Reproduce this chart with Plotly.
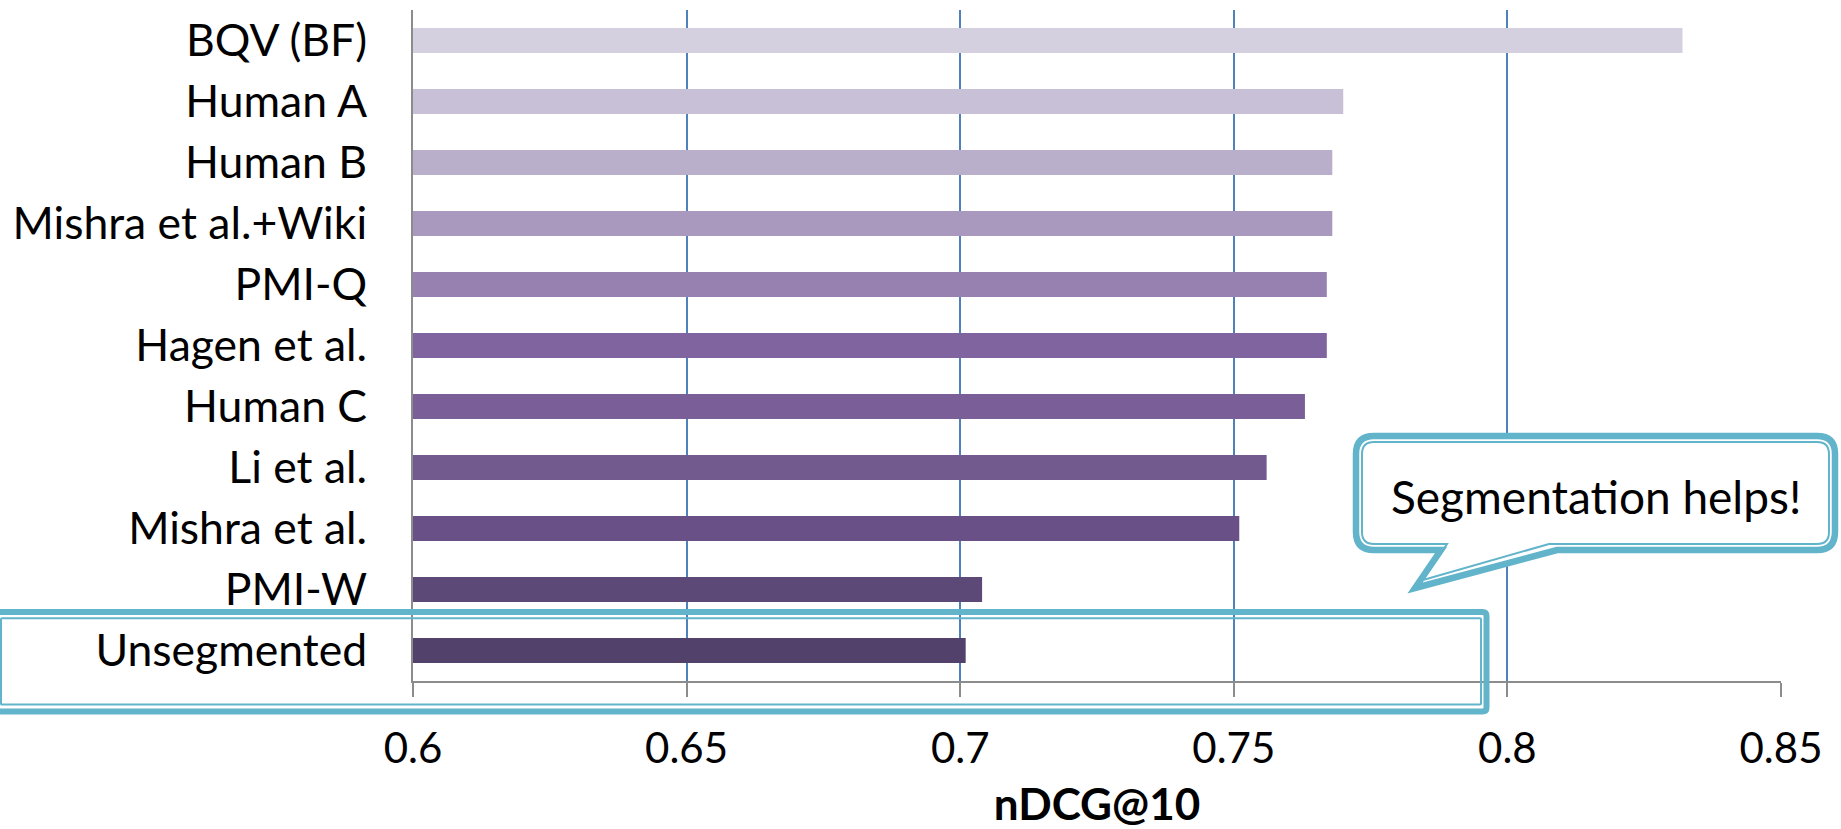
import plotly.graph_objects as go

# Query segmentation methods, top to bottom, with their retrieval scores
methods = [
    "BQV (BF)", "Human A", "Human B", "Mishra et al.+Wiki", "PMI-Q",
    "Hagen et al.", "Human C", "Li et al.", "Mishra et al.", "PMI-W", "Unsegmented",
]
ndcg10 = [0.832, 0.770, 0.768, 0.768, 0.767, 0.767, 0.763, 0.756, 0.751, 0.704, 0.701]
bar_colors = [
    "#D5D0E0", "#C8C0D7", "#BAAFCB", "#A999BF", "#9681B0",
    "#7F64A0", "#7A5E98", "#72598E", "#695086", "#5D4977", "#52416A",
]
x_ticks = [0.6, 0.65, 0.7, 0.75, 0.8, 0.85]
x_tick_text = ["0.6", "0.65", "0.7", "0.75", "0.8", "0.85"]
callout_text = "Segmentation helps!"
axis_title = "nDCG@10"

W, H = 1841, 829
L, R, T, B = 413, 1781, 10, 681   # plot area in pixels
FONT = "Lato"
TEAL = "#62B4CB"


def px(x, y):
    """Pixel position -> paper coordinates."""
    return (x - L) / (R - L), (B - y) / (B - T)


def rounded_path(x0, y0, x1, y1, r, tail=None):
    """Rounded rectangle path (optionally with a speech tail on the bottom edge)."""
    def p(x, y):
        a, b = px(x, y)
        return f"{a:.5f},{b:.5f}"
    d = [f"M {p(x0 + r, y0)}", f"L {p(x1 - r, y0)}", f"Q {p(x1, y0)} {p(x1, y0 + r)}",
         f"L {p(x1, y1 - r)}", f"Q {p(x1, y1)} {p(x1 - r, y1)}"]
    if tail:
        (rx, tx, ty, lx) = tail
        d += [f"L {p(rx, y1)}", f"L {p(tx, ty)}", f"L {p(lx, y1)}"]
    d += [f"L {p(x0 + r, y1)}", f"Q {p(x0, y1)} {p(x0, y1 - r)}",
          f"L {p(x0, y0 + r)}", f"Q {p(x0, y0)} {p(x0 + r, y0)}", "Z"]
    return " ".join(d)


fig = go.Figure(
    go.Bar(
        x=ndcg10,
        y=methods,
        orientation="h",
        marker=dict(color=bar_colors, line=dict(width=0)),
        base=0,
    )
)

shapes = [
    # speech bubble: thick outer stroke with white fill, thin inner stroke
    dict(type="path", xref="paper", yref="paper", layer="above",
         path=rounded_path(1356, 436, 1835, 550, 18, tail=(1557, 1415, 588, 1441)),
         line=dict(color=TEAL, width=6.5), fillcolor="white"),
    dict(type="path", xref="paper", yref="paper", layer="above",
         path=rounded_path(1362, 442, 1829, 544, 12, tail=(1549, 1423, 580, 1447)),
         line=dict(color=TEAL, width=2), fillcolor="rgba(0,0,0,0)"),
    # highlight box around the unsegmented baseline
    dict(type="path", xref="paper", yref="paper", layer="above",
         path=rounded_path(-4, 612, 1486.5, 711.5, 4),
         line=dict(color=TEAL, width=6), fillcolor="rgba(0,0,0,0)"),
    dict(type="path", xref="paper", yref="paper", layer="above",
         path=rounded_path(1, 618.2, 1481, 704.6, 1),
         line=dict(color=TEAL, width=2), fillcolor="rgba(0,0,0,0)"),
]

cx, cy = px(1596, 496)
annotations = [
    dict(text=callout_text, x=cx, y=cy, xref="paper", yref="paper",
         showarrow=False, xanchor="center", yanchor="middle",
         font=dict(family=FONT, size=46, color="black")),
]

fig.update_layout(
    width=W, height=H,
    margin=dict(l=L, r=W - R, t=T, b=H - B, pad=0, autoexpand=False),
    paper_bgcolor="white", plot_bgcolor="white",
    bargap=0.59,
    showlegend=False,
    font=dict(family=FONT, size=44, color="black"),
    shapes=shapes,
    annotations=annotations,
    xaxis=dict(
        range=[0.6, 0.85],
        automargin=False,
        tickvals=x_ticks, ticktext=x_tick_text,
        showgrid=True, gridcolor="#4F81BD", gridwidth=1.6,
        showline=True, linecolor="#8C8C8C", linewidth=2,
        ticks="outside", ticklen=14, tickwidth=1.5, tickcolor="#8C8C8C",
        ticklabelstandoff=16,
        tickfont=dict(family=FONT, size=42, color="black"),
        zeroline=False,
        title=dict(text=f"<b>{axis_title}</b>", standoff=31,
                   font=dict(family=FONT, size=44, color="black")),
    ),
    yaxis=dict(
        autorange="reversed",
        automargin=False,
        showline=True, linecolor="#8C8C8C", linewidth=2,
        showgrid=False, ticks="", ticklabelstandoff=35,
        tickfont=dict(family=FONT, size=44.5, color="black"),
    ),
)

fig.write_html("out.html")
